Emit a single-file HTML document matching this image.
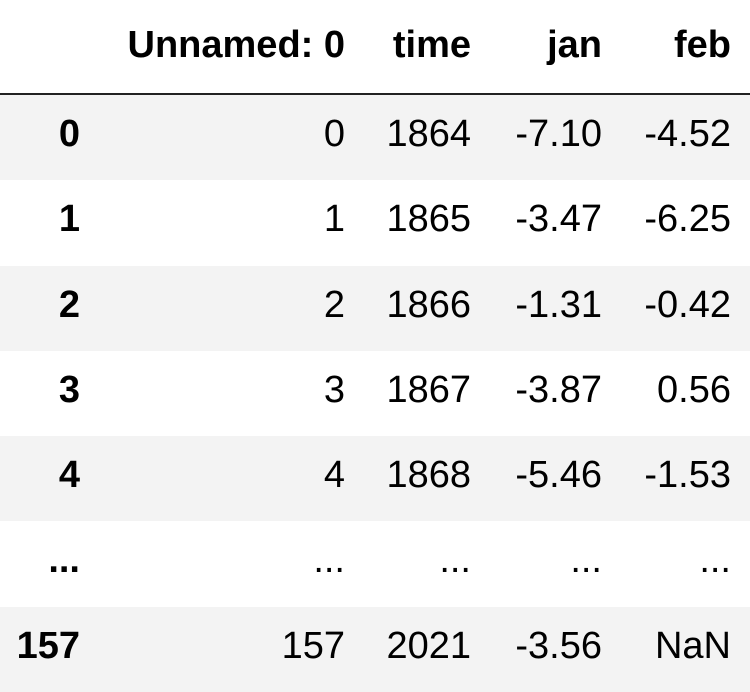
<!DOCTYPE html>
<html><head><meta charset="utf-8">
<style>
html,body{margin:0;padding:0;background:#fff;width:750px;height:692px;overflow:hidden;}
#t{position:relative;width:750px;height:692px;font-family:"Liberation Sans",Arial,sans-serif;font-size:38px;color:#000;}
.row{position:absolute;left:0;width:750px;}
.c{position:absolute;line-height:38px;white-space:nowrap;text-align:right;}
.b{font-weight:bold;}
</style></head>
<body>
<div id="t"></div>
<script>
const colNames = ["Unnamed: 0","time","jan","feb"];
const indexLabels = ["0","1","2","3","4","...","157"];
const unnamedCol = ["0","1","2","3","4","...","157"];
const timeCol = ["1864","1865","1866","1867","1868","...","2021"];
const janCol = ["-7.10","-3.47","-1.31","-3.87","-5.46","...","-3.56"];
const febCol = ["-4.52","-6.25","-0.42","0.56","-1.53","...","NaN"];

const t = document.getElementById('t');
const rights = [345,471,602,731];
function cell(parent, text, right, baseline, bold, name){
  const d = document.createElement('div');
  d.className = 'c' + (bold ? ' b' : '');
  d.textContent = text;
  d.style.top = (baseline - 32) + 'px';
  d.style.right = (750 - right) + 'px';
  
  
  parent.appendChild(d);
}
const hdr = document.createElement('div');
hdr.className = 'row';
hdr.style.top = '0px'; hdr.style.height = '93px';
hdr.style.borderBottom = '2.5px solid #222';


t.appendChild(hdr);
colNames.forEach((n,i)=>cell(t, n, rights[i], 58, true, 'column-header'));
const rowTop = 95, pitch = (692-95)/indexLabels.length;
indexLabels.forEach((lab, i)=>{
  const r = document.createElement('div');
  r.className = 'row';
  r.style.top = (rowTop + i*pitch) + 'px';
  r.style.height = pitch + 'px';
  r.style.background = (i % 2 === 0) ? '#f3f3f3' : '#fff';
  
  
  t.appendChild(r);
});
indexLabels.forEach((lab, i)=>{
  const base = 147 + i*pitch;
  cell(t, lab, 80, base, true, 'row-index');
  cell(t, unnamedCol[i], rights[0], base, false, 'cell-unnamed');
  cell(t, timeCol[i], rights[1], base, false, 'cell-time');
  cell(t, janCol[i], rights[2], base, false, 'cell-jan');
  cell(t, febCol[i], rights[3], base, false, 'cell-feb');
});
</script>
</body></html>
